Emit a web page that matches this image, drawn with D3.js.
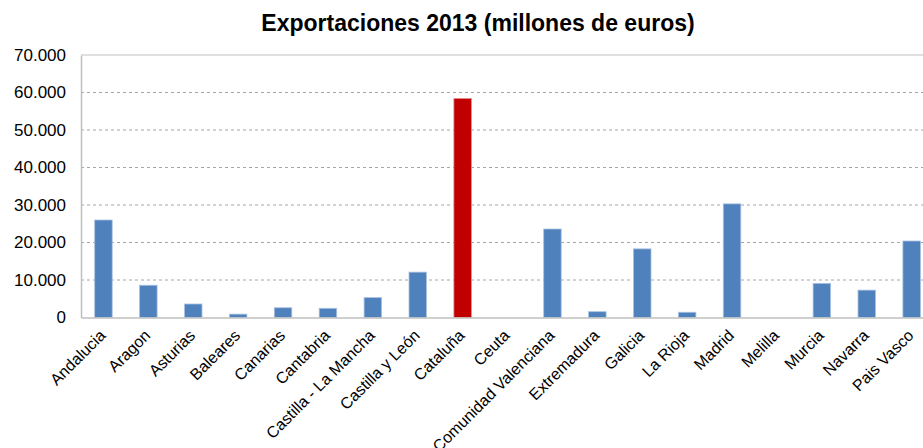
<!DOCTYPE html>
<html>
<head>
<meta charset="utf-8">
<script src="https://cdn.jsdelivr.net/npm/d3@7"></script>
<style>
  html, body { margin: 0; padding: 0; background: #fff; }
  svg { display: block; font-family: "Liberation Sans", Arial, sans-serif; }
</style>
</head>
<body>
<svg id="chart" width="923" height="448"></svg>
<script>
// Exports by autonomous community, 2013 (million euros)
const regions = [
  "Andalucia", "Aragon", "Asturias", "Baleares", "Canarias", "Cantabria",
  "Castilla - La Mancha", "Castilla y León", "Cataluña", "Ceuta",
  "Comunidad Valenciana", "Extremadura", "Galicia", "La Rioja", "Madrid",
  "Melilla", "Murcia", "Navarra", "Pais Vasco"
];
const exportsValues = [
  26000, 8600, 3600, 900, 2600, 2450,
  5300, 12100, 58400, 0,
  23600, 1550, 18300, 1400, 30300,
  0, 9100, 7300, 20400
];
const highlighted = ["Cataluña"];
const yTicks = [0, 10000, 20000, 30000, 40000, 50000, 60000, 70000];
const titleText = "Exportaciones 2013 (millones de euros)";

const svg = d3.select("#chart");
const plotLeft = 81, plotTop = 55, plotBottom = 317.5, bandStep = 44.9;

const x = d3.scaleBand()
  .domain(regions)
  .range([plotLeft, plotLeft + bandStep * regions.length])
  .paddingInner(0.61)
  .paddingOuter(0.305);

const y = d3.scaleLinear().domain([0, 70000]).range([plotBottom, plotTop]);

const fmt = v => d3.format(",")(v).replace(/,/g, ".");

// dashed gridlines
svg.append("g")
  .selectAll("line")
  .data(yTicks.filter(t => t > 0 && t < 70000))
  .join("line")
  .attr("x1", plotLeft).attr("x2", 923)
  .attr("y1", d => y(d)).attr("y2", d => y(d))
  .attr("stroke", "#a6a6a6")
  .attr("stroke-width", 1)
  .attr("stroke-dasharray", "3,3");

// plot frame top
svg.append("line")
  .attr("x1", plotLeft).attr("x2", 923)
  .attr("y1", y(70000)).attr("y2", y(70000))
  .attr("stroke", "#c0c0c0").attr("stroke-width", 1.2);

// bars
svg.append("g")
  .selectAll("rect")
  .data(regions.map((r, i) => ({ r, v: exportsValues[i] })))
  .join("rect")
  .attr("x", d => x(d.r))
  .attr("width", x.bandwidth())
  .attr("y", d => y(d.v))
  .attr("height", d => y(0) - y(d.v))
  .attr("fill", d => highlighted.includes(d.r) ? "#c00000" : "#4f81bd")
  .attr("stroke", d => highlighted.includes(d.r) ? "#e88a8a" : "#a9c2e2")
  .attr("stroke-width", d => d.v > 0 ? 0.8 : 0);

// y axis
const yAxis = svg.append("g")
  .attr("transform", `translate(${plotLeft},0)`)
  .call(d3.axisLeft(y).tickValues(yTicks).tickFormat(fmt).tickSize(0).tickPadding(15));
yAxis.select(".domain").attr("stroke", "#bfbfbf").attr("stroke-width", 1.5);
yAxis.selectAll("text")
  .attr("font-size", 17).attr("fill", "#000")
  .attr("font-family", "Liberation Sans, Arial, sans-serif");

// x axis
const xAxis = svg.append("g")
  .attr("transform", `translate(0,${plotBottom})`)
  .call(d3.axisBottom(x).tickSize(0).tickPadding(0));
xAxis.select(".domain").attr("stroke", "#bfbfbf").attr("stroke-width", 1.5);
xAxis.selectAll("text")
  .attr("font-size", 16).attr("fill", "#000")
  .attr("font-family", "Liberation Sans, Arial, sans-serif")
  .attr("text-anchor", "end")
  .attr("dy", 0)
  .attr("transform", "translate(3,19) rotate(-45)");

// title
svg.append("text")
  .attr("x", 478).attr("y", 31)
  .attr("text-anchor", "middle")
  .attr("font-size", 23).attr("font-weight", "bold")
  .attr("fill", "#000")
  .text(titleText);
</script>
</body>
</html>
